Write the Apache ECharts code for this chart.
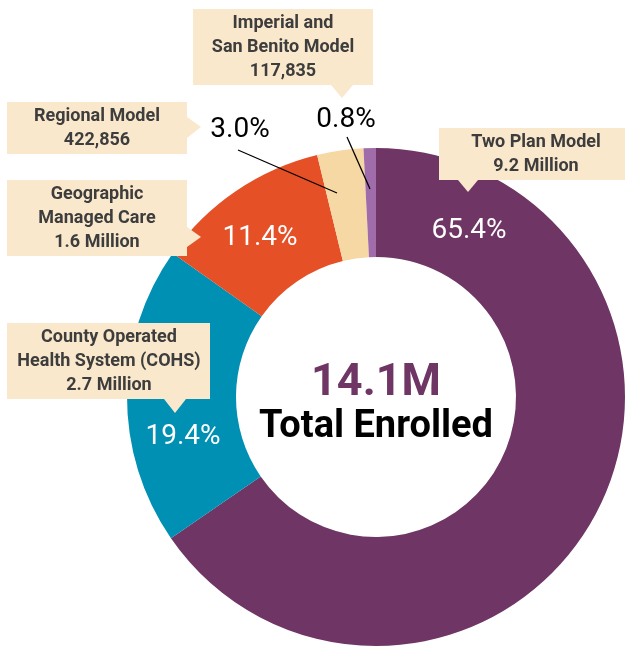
<!DOCTYPE html>
<html>
<head>
<meta charset="utf-8">
<script src="https://cdn.jsdelivr.net/npm/echarts@6/dist/echarts.min.js"></script>
<style>
  html, body { margin: 0; padding: 0; background: #fff; }
  #chart { width: 625px; height: 652px; }
</style>
</head>
<body>
<div id="chart"></div>
<script>
// data
const categories = ['Two Plan Model', 'County Operated Health System (COHS)', 'Geographic Managed Care', 'Regional Model', 'Imperial and San Benito Model'];
const shares = [65.4, 19.4, 11.4, 3.0, 0.8];
const enrolled = ['9.2 Million', '2.7 Million', '1.6 Million', '422,856', '117,835'];
const boxTitles = [['Two Plan Model'], ['County Operated', 'Health System (COHS)'], ['Geographic', 'Managed Care'], ['Regional Model'], ['Imperial and', 'San Benito Model']];
const totalText = '14.1M';
const totalCaption = 'Total Enrolled';

// styles
const colors = ['#6E3565', '#0090B3', '#E55027', '#F5D8A3', '#A06CAA'];
const labelColors = ['#fff', '#fff', '#fff', '#000', '#000'];
const boxFill = '#FAE8CC';
const boxText = '#3d3d3d';
const fam = 'Roboto, "Noto Sans", sans-serif';

// where the percentage labels sit (and leader lines for small slices)
const pctPos = [[469, 231], [183, 437], [260, 238], [240, 130], [346, 120]];
const leaders = [null, null, null, [[238, 150], [337, 193]], [[347, 137], [370, 189]]];

// callout boxes: rect + pointer
const boxes = [
  { x: 439, y: 128, w: 190, h: 52, cx: 536, ptr: [[458, 180], [478, 180], [468, 192]] },
  { x: 7, y: 323, w: 203, h: 76, cx: 109, ptr: [[164, 399], [186, 399], [175, 413]] },
  { x: 7, y: 180, w: 180, h: 76, cx: 97, ptr: [[187, 227], [187, 247], [201, 237]] },
  { x: 7, y: 102, w: 180, h: 52, cx: 97, ptr: [[187, 117], [187, 138], [201, 127]] },
  { x: 193, y: 9, w: 180, h: 76, cx: 283, ptr: [[331, 85], [353, 85], [342, 98]] }
];

const chart = echarts.init(document.getElementById('chart'));

const pieData = categories.map((name, i) => ({
  name: name,
  value: shares[i],
  itemStyle: { color: colors[i] },
  label: { color: labelColors[i] }
}));

const graphics = [];
boxes.forEach((b, i) => {
  graphics.push({ type: 'rect', z: 100, shape: { x: b.x, y: b.y, width: b.w, height: b.h }, style: { fill: boxFill }, silent: true });
  graphics.push({ type: 'polygon', z: 100, shape: { points: b.ptr }, style: { fill: boxFill }, silent: true });
  const lines = boxTitles[i].concat([enrolled[i]]);
  graphics.push({
    type: 'text', z: 101, x: b.cx, y: b.y + b.h / 2, silent: true,
    style: {
      text: lines.join('\n'), fill: boxText, font: 'bold 18px ' + fam,
      align: 'center', verticalAlign: 'middle', lineHeight: 24
    }
  });
});
leaders.forEach(l => {
  if (!l) return;
  graphics.push({ type: 'polyline', z: 100, shape: { points: l }, style: { stroke: '#000', lineWidth: 1.3 }, silent: true });
});
graphics.push({
  type: 'text', z: 100, x: 376, y: 384, silent: true,
  style: { text: totalText, fill: '#6E3565', font: 'bold 45px ' + fam, align: 'center', verticalAlign: 'middle' }
});
graphics.push({
  type: 'text', z: 100, x: 376, y: 427, silent: true,
  style: { text: totalCaption, fill: '#000', font: 'bold 38px ' + fam, align: 'center', verticalAlign: 'middle' }
});

chart.setOption({
  animation: false,
  series: [{
    type: 'pie',
    center: [376, 397],
    radius: [140, 249],
    startAngle: 90,
    clockwise: true,
    silent: true,
    data: pieData,
    label: {
      show: true,
      formatter: p => p.value.toFixed(1) + '%',
      fontFamily: fam,
      fontSize: 28,
      overflow: 'none',
      alignTo: 'none'
    },
    labelLine: { show: false },
    labelLayout: p => {
      const i = p.dataIndex;
      return { x: pctPos[i][0], y: pctPos[i][1], align: 'center', verticalAlign: 'middle', hideOverlap: false };
    }
  }],
  graphic: graphics
});
</script>
</body>
</html>
